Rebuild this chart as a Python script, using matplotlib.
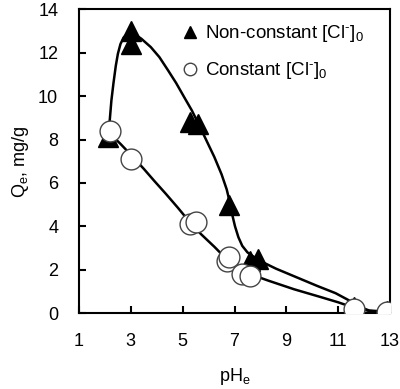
import matplotlib
matplotlib.use("Agg")
import matplotlib.pyplot as plt

# Data points
ph_nc = [2.1, 3.0, 3.0, 5.3, 5.6, 6.8, 7.6, 7.9, 11.6, 12.9]
q_nc = [8.1, 12.4, 13.0, 8.8, 8.7, 5.0, 2.4, 2.5, 0.3, 0.1]
ph_c = [2.2, 3.0, 5.3, 5.5, 6.7, 6.8, 7.3, 7.6, 11.6, 12.9]
q_c = [8.4, 7.1, 4.1, 4.2, 2.4, 2.6, 1.8, 1.7, 0.2, 0.05]

# Fitted curves
curve_nc_x = [2.13, 2.18, 2.25, 2.33, 2.42, 2.5, 2.6, 2.72, 2.85, 3.0, 3.15, 3.4, 3.77, 4.1, 4.43, 4.75, 5.06, 5.35,
              5.6, 5.9, 6.22, 6.5, 6.7, 6.82, 6.92, 7.02, 7.15, 7.3, 7.5, 7.8, 8.17, 8.6, 9.0, 9.6, 10.2, 10.9, 11.4,
              11.8, 12.2, 12.85]
curve_nc_y = [8.1, 8.8, 9.8, 10.6, 11.4, 11.95, 12.4, 12.7, 12.85, 12.9, 12.85, 12.65, 12.26, 11.8, 11.2, 10.6, 9.95,
              9.35, 8.75, 8.0, 7.2, 6.4, 5.7, 5.1, 4.5, 4.0, 3.5, 3.1, 2.8, 2.55, 2.3, 2.05, 1.85, 1.55, 1.25, 0.92,
              0.6, 0.3, 0.12, 0.07]
curve_c_x = [2.13, 2.6, 3.0, 3.5, 3.9, 4.35, 4.82, 5.2, 5.7, 6.23, 6.6, 7.0, 7.6, 8.3, 9.3, 10.3, 11.0, 11.56, 12.2,
             12.85]
curve_c_y = [8.35, 7.8, 7.3, 6.65, 6.1, 5.5, 4.85, 4.3, 3.65, 3.05, 2.6, 2.2, 1.8, 1.5, 1.1, 0.75, 0.5, 0.27, 0.1,
             0.05]

xticks = [1, 3, 5, 7, 9, 11, 13]
yticks = [0, 2, 4, 6, 8, 10, 12, 14]

plt.rcParams['font.family'] = ['Liberation Sans', 'DejaVu Sans']
plt.rcParams['mathtext.fontset'] = 'custom'
plt.rcParams['mathtext.rm'] = 'Liberation Sans'
plt.rcParams['mathtext.it'] = 'Liberation Sans'

fig = plt.figure(figsize=(4.0, 3.89), dpi=100)
ax = fig.add_axes([0.1975, 0.195, 0.7775, 0.781])

ax.plot(curve_nc_x, curve_nc_y, color='black', lw=1.8, zorder=2)
ax.plot(curve_c_x, curve_c_y, color='black', lw=1.8, zorder=2)
ax.plot(ph_nc, q_nc, linestyle='none', marker='^', ms=15, mfc='black', mec='black', zorder=3,
        label='Non-constant [Cl$^{\\text{-}}$]$_0$')
ax.plot(ph_c, q_c, linestyle='none', marker='o', ms=15, mfc='white', mec='#444444', mew=1.0, zorder=4,
        label='Constant [Cl$^{\\text{-}}$]$_0$')

ax.set_xlim(1, 13)
ax.set_ylim(0, 14)
ax.set_xticks(xticks)
ax.set_yticks(yticks)
ax.tick_params(direction='in', length=5, width=1.5, labelsize=13)
ax.tick_params(axis='y', pad=15)
ax.tick_params(axis='x', pad=14)
for s in ax.spines.values():
    s.set_linewidth(1.5)

ax.set_xlabel('pH$_e$', fontsize=13, labelpad=12)
ax.set_ylabel('Q$_e$, mg/g', fontsize=13, labelpad=5)

leg = ax.legend(loc='upper left', frameon=False, fontsize=13.5, handletextpad=0.3, handlelength=1.0,
                markerscale=0.6, bbox_to_anchor=(173 / 400, 0.959), bbox_transform=fig.transFigure,
                labelspacing=0.85, borderaxespad=0)

fig.savefig('out.png', dpi=100)
